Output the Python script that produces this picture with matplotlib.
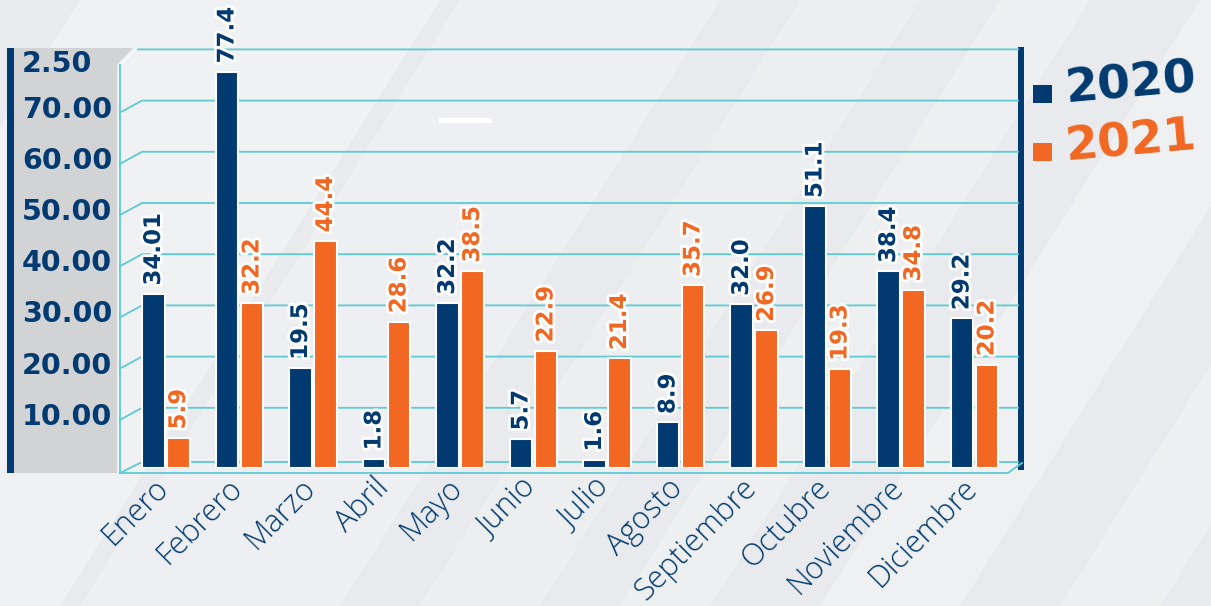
import matplotlib
matplotlib.use("Agg")
import matplotlib.pyplot as plt
import numpy as np
from matplotlib.patches import Rectangle, Polygon
import matplotlib.patheffects as pe
import matplotlib.transforms as mtransforms

# ---------------- data ----------------
months = ["Enero", "Febrero", "Marzo", "Abril", "Mayo", "Junio", "Julio",
          "Agosto", "Septiembre", "Octubre", "Noviembre", "Diciembre"]
v2020 = [34.01, 77.4, 19.5, 1.8, 32.2, 5.7, 1.6, 8.9, 32.0, 51.1, 38.4, 29.2]
v2021 = [5.9, 32.2, 44.4, 28.6, 38.5, 22.9, 21.4, 35.7, 26.9, 19.3, 34.8, 20.2]
lbl2020 = ["34.01", "77.4", "19.5", "1.8", "32.2", "5.7", "1.6", "8.9",
           "32.0", "51.1", "38.4", "29.2"]
lbl2021 = ["5.9", "32.2", "44.4", "28.6", "38.5", "22.9", "21.4", "35.7",
           "26.9", "19.3", "34.8", "20.2"]
ytick_vals = [10, 20, 30, 40, 50, 60, 70, 79]
ytick_labels = ["10.00", "20.00", "30.00", "40.00", "50.00", "60.00", "70.00", "2.50"]
grid_vals = [10, 20, 30, 40, 50, 60, 70, 80]
series_names = ["2020", "2021"]

BLUE = "#003a70"
ORANGE = "#f26722"
TEAL = "#5ccbd3"
GREY = "#d2d3d5"

W, H = 1211, 606
fig = plt.figure(figsize=(W / 100, H / 100), dpi=100)
fig.patch.set_facecolor("#e8eaed")

# background axes in pixel coordinates (y down)
bg = fig.add_axes([0, 0, 1, 1], zorder=-10)
bg.set_xlim(0, W)
bg.set_ylim(H, 0)
bg.axis("off")

# subtle diagonal light stripes
stripes = [(-300, 360, 0.35), (80, 260, 0.28), (420, 120, 0.22), (620, 90, 0.25),
           (820, 140, 0.3), (1060, 100, 0.25), (1250, 160, 0.22)]
for x0, w, a in stripes:
    bg.add_patch(Polygon([(x0, H), (x0 + w, H), (x0 + w + 380, 0), (x0 + 380, 0)],
                         closed=True, facecolor="white", alpha=a, lw=0))

# main axes
PX0, PX1 = 120, 1020
PY0, PY1 = 468, 48
yscale = 5.12
ytop = (PY0 - PY1) / yscale
gsp = 73.5
g0 = 166
xlo = -(g0 - PX0) / gsp
xhi = (PX1 - g0) / gsp
ax = fig.add_axes([PX0 / W, (H - PY0) / H, (PX1 - PX0) / W, (PY0 - PY1) / H])
ax.set_facecolor("none")
ax.set_xlim(xlo, xhi)
ax.set_ylim(0, ytop)
for s in ax.spines.values():
    s.set_visible(False)
ax.set_yticks([])

def ypx(v):
    d = ax.transData.transform((0, v))[1]
    return H - d

# grey panel with blue line
bg.add_patch(Polygon([(13, 48), (133, 48), (117, 65), (117, 473), (13, 473)],
                     closed=True, facecolor=GREY, lw=0, zorder=1))
bg.add_patch(Rectangle((7, 48), 7, 425, facecolor=BLUE, lw=0, zorder=2))
bg.add_patch(Rectangle((1018, 47), 6, 423, facecolor=BLUE, lw=0, zorder=2))

# gridlines (back wall + left slant)
for v in grid_vals:
    yb = ypx(v) - 9
    if v == 80:
        bg.plot([120, 136, 1018], [65, yb, yb], color=TEAL, lw=1.3, zorder=3)
        bg.plot([120, 136], [65, yb], color="white", lw=1.5, zorder=3)
    else:
        bg.plot([120, 142, 1018], [yb + 12, yb, yb], color=TEAL, lw=1.3, zorder=3)
# floor
bg.plot([120, 142, 1018], [473, 462, 462], color=TEAL, lw=1.3, zorder=3)
bg.plot([120, 1008, 1022], [473, 473, 463], color=TEAL, lw=1.3, zorder=3)
bg.plot([120, 120], [65, 473], color=TEAL, lw=1.3, zorder=3)

# small white mark
bg.add_patch(Rectangle((439, 118), 53, 5, facecolor="white", lw=0, zorder=3))

# bars
x = np.arange(len(months))
off = 0.17
bw = 0.31
ax.bar(x - off, v2020, bw, color=BLUE, edgecolor="white", linewidth=1.5, zorder=3)
ax.bar(x + off, v2021, bw, color=ORANGE, edgecolor="white", linewidth=1.5, zorder=3)

stroke = [pe.withStroke(linewidth=4, foreground="white")]
for i in range(len(months)):
    ax.annotate(lbl2020[i], (x[i] - off, v2020[i]), xytext=(0, 6), textcoords="offset points",
                rotation=90, ha="center", va="bottom", fontsize=16.5, fontweight="bold",
                color=BLUE, path_effects=stroke, zorder=5, annotation_clip=False)
    ax.annotate(lbl2021[i], (x[i] + off, v2021[i]), xytext=(0, 6), textcoords="offset points",
                rotation=90, ha="center", va="bottom", fontsize=16.5, fontweight="bold",
                color=ORANGE, path_effects=stroke, zorder=5, annotation_clip=False)

# month labels
ax.set_xticks(x)
ax.set_xticklabels(months, rotation=45, ha="right", va="top", rotation_mode="anchor",
                   fontsize=22, color=BLUE, fontfamily=["Open Sans", "DejaVu Sans"],
                   fontweight="light")
ax.tick_params(axis="x", length=0, pad=3)
shift = mtransforms.ScaledTranslation(-13 / 100, 0, fig.dpi_scale_trans)
for t in ax.get_xticklabels():
    t.set_transform(t.get_transform() + shift)

# y labels
for v, s in zip(ytick_vals, ytick_labels):
    bg.text(22, ypx(v), s, ha="left", va="center", fontsize=20.5, fontweight="bold",
            color=BLUE, zorder=4)

# legend
bg.add_patch(Rectangle((1033, 85), 19, 18, facecolor=BLUE, lw=0, zorder=4))
bg.add_patch(Rectangle((1033, 143), 19, 18, facecolor=ORANGE, lw=0, zorder=4))
bg.text(1066, 103, series_names[0], ha="left", va="baseline", fontsize=34, fontweight="bold",
        color=BLUE, rotation=5, rotation_mode="anchor", zorder=4)
bg.text(1066, 161, series_names[1], ha="left", va="baseline", fontsize=34, fontweight="bold",
        color=ORANGE, rotation=5, rotation_mode="anchor", zorder=4)

fig.savefig("out.png", dpi=100, facecolor=fig.get_facecolor())
